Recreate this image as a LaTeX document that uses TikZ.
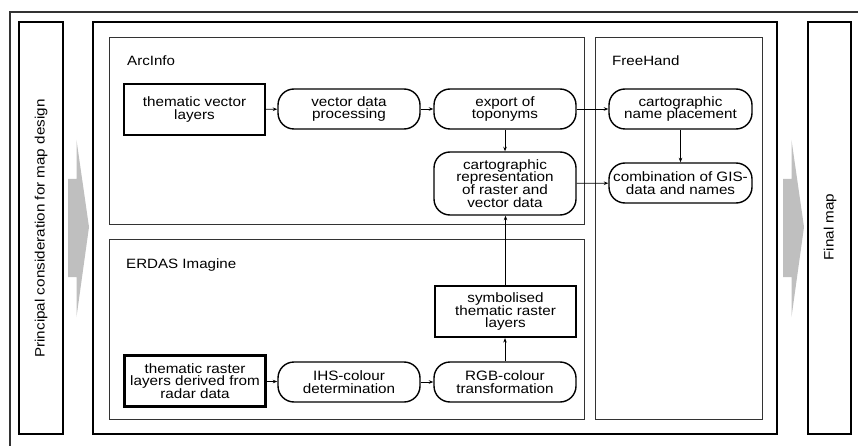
\documentclass[tikz,border=0pt]{standalone}
\usepackage{fontspec}
\setmainfont{Liberation Sans}[FakeStretch=1.12]
\usetikzlibrary{arrows.meta}
\begin{document}
\begin{tikzpicture}[x=1pt,y=-1pt,
  txt/.style={font=\fontsize{13.6}{12.8}\selectfont, align=center, inner sep=0pt},
  rbox/.style={txt, draw, line width=1.4pt, rounded corners=16pt, minimum width=142pt, minimum height=40pt},
  sbox/.style={txt, draw, line width=2.2pt, minimum width=141pt, minimum height=51pt},
  panel/.style={draw=black!80, line width=1pt},
  frame/.style={draw, line width=1.8pt},
  lbl/.style={font=\fontsize{13.5}{13.5}\selectfont, anchor=base west, inner sep=0pt},
  side/.style={rotate=90, font=\fontsize{13.6}{13.6}\selectfont, inner sep=0pt},
  arr/.style={-{Stealth[length=4.5pt,width=3.5pt]}, line width=0.9pt},
  bigarrow/.style={fill=black!25, draw=none}
]
\useasboundingbox (0,0) rectangle (858,446);
% outer frame (only top and left visible)
\draw[line width=1.4pt, black!80] (10,446) -- (10,12) -- (858,12);
% columns
\draw[frame] (19,22) rectangle (63,434);
\draw[frame] (93,22) rectangle (777,434);
\draw[frame] (808,22) rectangle (851,434);
% panels
\draw[panel] (109,38) rectangle (584,224);
\draw[panel] (109,239) rectangle (584,419);
\draw[panel] (595,38) rectangle (762,419);
% side texts
\node[side] (pc) at (41,228.5) {Principal consideration for map design};
\node[side] (fm) at (830,227) {Final map};
% gray arrows
\fill[bigarrow] (68,179) -- (76.5,179) -- (76.5,140) -- (89,227) -- (76.5,317) -- (76.5,277) -- (68,277) -- cycle;
\fill[bigarrow] (783,179) -- (791.5,179) -- (791.5,140) -- (804,227) -- (791.5,317) -- (791.5,277) -- (783,277) -- cycle;
% panel labels
\node[lbl] (arcinfo) at (127,66) {ArcInfo};
\node[lbl] (freehand) at (612,66) {FreeHand};
\node[lbl] (erdas) at (126,268) {ERDAS Imagine};
% nodes
\node[sbox] (tvl) at (194.5,109.5) {thematic vector\\layers};
\node[rbox] (vdp) at (349,109) {vector data\\processing};
\node[rbox] (exp) at (505,109) {export of\\toponyms};
\node[rbox, minimum height=63pt] (crep) at (505,183.5) {cartographic\\representation\\of raster and\\vector data};
\node[rbox, minimum width=143pt] (cnp) at (680.5,109) {cartographic\\name placement};
\node[rbox, minimum width=143pt] (comb) at (680.5,183) {combination of GIS-\\data and names};
\node[sbox] (trl) at (195,381) {thematic raster\\layers derived from\\radar data};
\node[rbox] (ihs) at (349,382) {IHS-colour\\determination};
\node[rbox] (rgb) at (505,382) {RGB-colour\\transformation};
\node[sbox] (sym) at (505.5,311.5) {symbolised\\thematic raster\\layers};
% connectors
\draw[arr] (tvl) -- (vdp);
\draw[arr] (vdp) -- (exp);
\draw[arr] (exp) -- (crep);
\draw[arr] (exp) -- (cnp);
\draw[arr] (crep) -- (comb);
\draw[arr] (cnp) -- (comb);
\draw[arr] (trl) -- (ihs);
\draw[arr] (ihs) -- (rgb);
\draw[arr] (rgb) -- (rgb |- sym.south);
\draw[arr] (sym) -- (sym |- crep.south);
\end{tikzpicture}
\end{document}
